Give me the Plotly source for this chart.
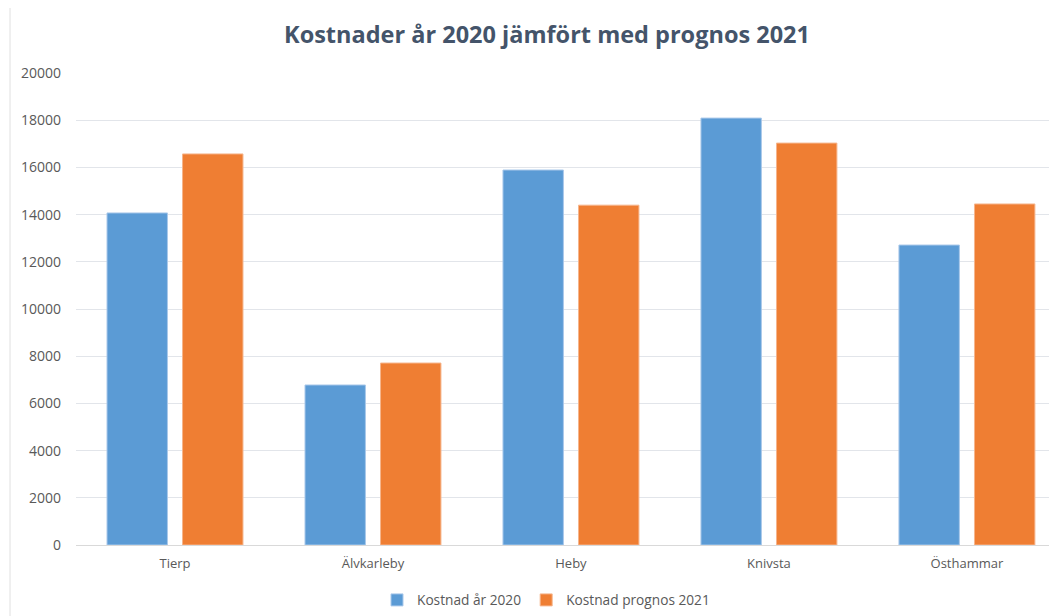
import plotly.graph_objects as go

categories = ["Tierp", "Älvkarleby", "Heby", "Knivsta", "Östhammar"]
kostnad_2020 = [14070, 6780, 15890, 18090, 12710]
prognos_2021 = [16570, 7710, 14400, 17030, 14450]
series_names = ["Kostnad år 2020", "Kostnad prognos 2021"]
y_ticks = [0, 2000, 4000, 6000, 8000, 10000, 12000, 14000, 16000, 18000, 20000]

FONT = "Open Sans"
W, H = 1049, 608  # page body has an 8px margin
fig = go.Figure()
fig.add_trace(go.Bar(
    x=categories, y=kostnad_2020, name=series_names[0],
    marker=dict(color="#5B9BD5", line=dict(color="#A9C8EA", width=1)),
))
fig.add_trace(go.Bar(
    x=categories, y=prognos_2021, name=series_names[1],
    marker=dict(color="#EF7E33", line=dict(color="#F6B58C", width=1)),
))

fig.update_layout(
    width=W, height=H,
    margin=dict(l=68, r=0, t=65, b=71),
    paper_bgcolor="white", plot_bgcolor="white",
    barmode="group", bargap=0.237, bargroupgap=0.2,
    title=dict(
        text="<b>Kostnader år 2020 jämfört med prognos 2021</b>",
        x=539 / W, xanchor="center", xref="container",
        y=1 - 27 / H, yanchor="middle", yref="container",
        font=dict(family=FONT, size=23.5, color="#44546A"),
    ),
    font=dict(family=FONT, size=12, color="#595959"),
    legend=dict(
        orientation="h", xref="container", yref="container",
        x=538 / W, xanchor="center", y=1 - 592 / H, yanchor="middle",
        font=dict(family=FONT, size=13.7, color="#595959"),
        itemwidth=30, tracegroupgap=0,
    ),
    xaxis=dict(
        type="category", range=[-0.5, 4.455],
        showgrid=False, showline=True, linecolor="#D9D9D9", linewidth=1,
        ticks="", tickfont=dict(size=13, color="#595959"),
        ticklabelstandoff=6,
    ),
    yaxis=dict(
        range=[0, 20000], tickvals=y_ticks, ticktext=[str(v) for v in y_ticks],
        showgrid=True, gridcolor="#E2E5EA", gridwidth=1,
        zeroline=False, showline=False, ticks="",
        tickfont=dict(size=14, color="#595959"),
        ticklabelstandoff=14,
    ),
    shapes=[dict(
        type="line", xref="paper", yref="paper",
        x0=(2 - 68) / 981, x1=(2 - 68) / 981, y0=-0.17, y1=1.14,
        line=dict(color="#E0E0E0", width=1),
    )],
)

fig.write_html("out.html")
